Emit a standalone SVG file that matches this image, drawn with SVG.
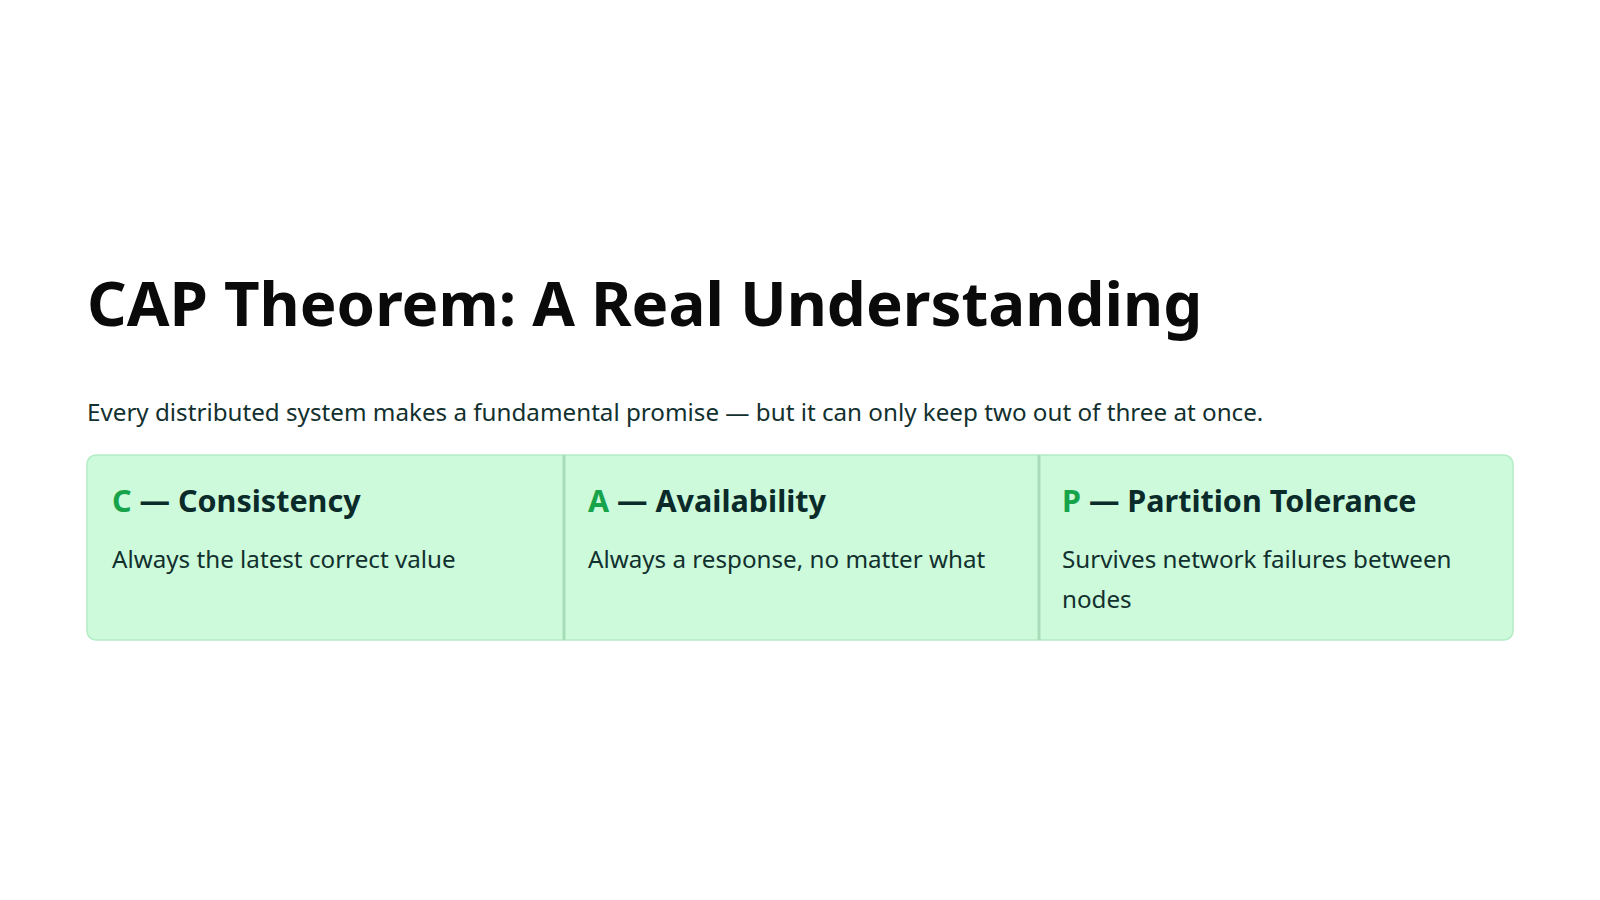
<svg xmlns="http://www.w3.org/2000/svg" width="1600" height="900" viewBox="0 0 1600 900">
<style>
text{font-family:"Noto Sans","Open Sans",sans-serif;fill:#0b2a2a}
.t{font-size:61.8px;font-weight:700;fill:#0a0a0a}
.s{font-size:24.2px;fill:#12302e}
.h{font-size:30.5px;font-weight:700}
.g{fill:#16a34a}
.b{font-size:24.2px;fill:#12302e}
</style>
<rect width="1600" height="900" fill="#fff"/>
<text class="t" x="87" y="326">CAP Theorem: A Real Understanding</text>
<text class="s" x="87" y="421">Every distributed system makes a fundamental promise — but it can only keep two out of three at once.</text>
<rect x="87" y="455" width="1426" height="185" rx="9" fill="#ccfadb" stroke="#b4ecc6" stroke-width="1.5"/>
<g id="c"><text class="h" x="112" y="512"><tspan class="g">C</tspan> — Consistency</text>
<text class="b" x="112" y="568">Always the latest correct value</text></g>
<line x1="564" y1="455" x2="564" y2="640" stroke="#a8dcb8" stroke-width="3"/>
<g id="a"><text class="h" x="588" y="512"><tspan class="g">A</tspan> — Availability</text>
<text class="b" x="588" y="568">Always a response, no matter what</text></g>
<line x1="1039" y1="455" x2="1039" y2="640" stroke="#a8dcb8" stroke-width="3"/>
<g id="p"><text class="h" x="1062" y="512"><tspan class="g">P</tspan> — Partition Tolerance</text>
<text class="b" x="1062" y="568">Survives network failures between</text>
<text class="b" x="1062" y="608">nodes</text></g>
</svg>
